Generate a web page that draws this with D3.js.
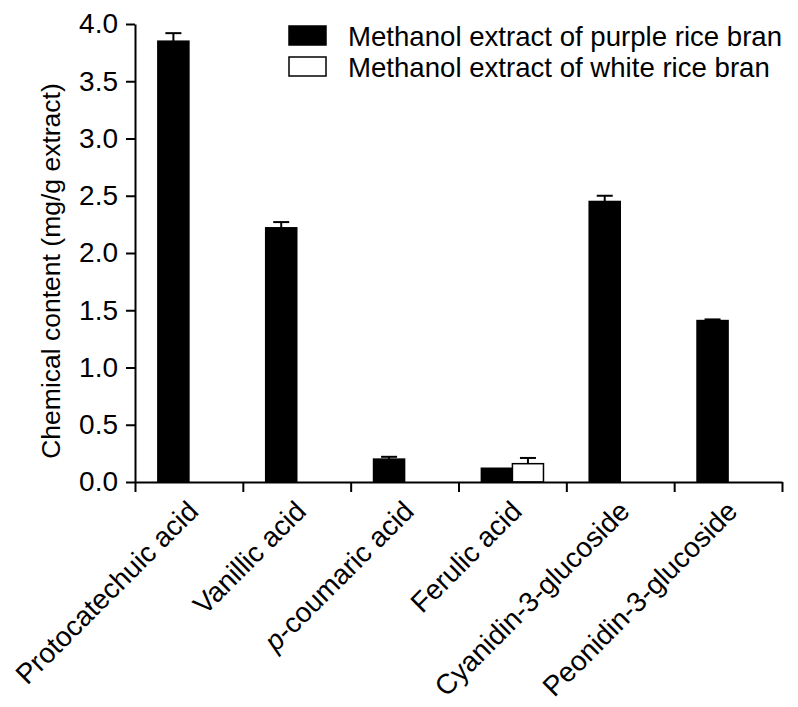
<!DOCTYPE html>
<html>
<head>
<meta charset="utf-8">
<script src="https://cdn.jsdelivr.net/npm/d3@7"></script>
<style>
  html, body { margin: 0; padding: 0; background: #fff; }
  svg { display: block; font-family: "Liberation Sans", Arial, sans-serif; }
</style>
</head>
<body>
<svg id="chart" width="798" height="707"></svg>
<script>
// ---- data ----
const categories = ["Protocatechuic acid", "Vanillic acid", "p-coumaric acid", "Ferulic acid", "Cyanidin-3-glucoside", "Peonidin-3-glucoside"];
const seriesNames = ["Methanol extract of purple rice bran", "Methanol extract of white rice bran"];
const purpleValues = [3.85, 2.22, 0.20, 0.12, 2.45, 1.41];
const purpleErrors = [0.07, 0.05, 0.02, 0.00, 0.05, 0.01];
const whiteValues  = [null, null, null, 0.16, null, null];
const whiteErrors  = [null, null, null, 0.05, null, null];
const yTicks = [0.0, 0.5, 1.0, 1.5, 2.0, 2.5, 3.0, 3.5, 4.0];
const yTitle = "Chemical content (mg/g extract)";

(function () {
// ---- layout ----
const svg = d3.select("#chart");
const mLeft = 135, mRight = 782, mTop = 24, mBottom = 482;

const x = d3.scaleBand().domain(categories).range([mLeft, mRight]).padding(0);
const barW = x.bandwidth() * 0.288;
const x1 = d3.scaleBand().domain(seriesNames)
  .range([x.bandwidth() / 2 - barW, x.bandwidth() / 2 + barW]).padding(0);
const y = d3.scaleLinear().domain([0, 4]).range([mBottom, mTop]);
const fills = { [seriesNames[0]]: "#000", [seriesNames[1]]: "#fff" };

const rows = [];
categories.forEach((c, i) => {
  rows.push({ cat: c, s: seriesNames[0], v: purpleValues[i], e: purpleErrors[i] });
  rows.push({ cat: c, s: seriesNames[1], v: whiteValues[i], e: whiteErrors[i] });
});
const drawn = rows.filter(d => d.v != null);

// bars
svg.append("g").selectAll("rect").data(drawn).join("rect")
  .attr("x", d => x(d.cat) + x1(d.s))
  .attr("y", d => y(d.v))
  .attr("width", x1.bandwidth())
  .attr("height", d => y(0) - y(d.v))
  .attr("fill", d => fills[d.s])
  .attr("stroke", "#000")
  .attr("stroke-width", 1.5);

// error bars (upper only)
const errG = svg.append("g").attr("stroke", "#000").attr("stroke-width", 2);
drawn.filter(d => d.e && d.e > 0).forEach(d => {
  const cx = x(d.cat) + x1(d.s) + x1.bandwidth() / 2;
  errG.append("line").attr("x1", cx).attr("x2", cx).attr("y1", y(d.v)).attr("y2", y(d.v + d.e));
  errG.append("line").attr("x1", cx - 8).attr("x2", cx + 8).attr("y1", y(d.v + d.e)).attr("y2", y(d.v + d.e));
});

// y axis
const yAxis = svg.append("g").attr("transform", `translate(${mLeft},0)`)
  .call(d3.axisLeft(y).tickValues(yTicks).tickFormat(d3.format(".1f")).tickSize(9).tickSizeOuter(0).tickPadding(8));
yAxis.selectAll("path, line").attr("stroke", "#000").attr("stroke-width", 2);
yAxis.selectAll("text").attr("font-size", 28).attr("fill", "#000")
  .attr("font-family", "Liberation Sans, Arial, sans-serif");

// x axis (ticks at band boundaries)
const xb = d3.scaleLinear().domain([0, categories.length]).range([mLeft, mRight]);
const xAxis = svg.append("g").attr("transform", `translate(0,${mBottom})`)
  .call(d3.axisBottom(xb).tickValues(d3.range(categories.length + 1)).tickFormat("").tickSize(10).tickSizeOuter(0));
xAxis.selectAll("path, line").attr("stroke", "#000").attr("stroke-width", 2);

// x labels
const lab = svg.append("g").selectAll("text").data(categories).join("text")
  .attr("transform", d => `translate(${x(d) + x.bandwidth() / 2 + 11},${mBottom + 31}) rotate(-45)`)
  .attr("text-anchor", "end")
  .attr("font-size", 28)
  .attr("fill", "#000");
lab.each(function(d) {
  const t = d3.select(this);
  if (d.startsWith("p-")) {
    t.append("tspan").attr("font-style", "italic").text("p");
    t.append("tspan").text(d.slice(1));
  } else {
    t.text(d);
  }
});

// y title
svg.append("text")
  .attr("transform", `translate(60,271) rotate(-90)`)
  .attr("text-anchor", "middle")
  .attr("font-size", 26.5)
  .attr("fill", "#000")
  .text(yTitle);

// legend
const leg = svg.append("g");
seriesNames.forEach((s, i) => {
  const ly = 26 + i * 31;
  leg.append("rect").attr("x", 289).attr("y", ly).attr("width", 37).attr("height", 19)
    .attr("fill", fills[s]).attr("stroke", "#000").attr("stroke-width", 1.5);
  leg.append("text").attr("x", 348).attr("y", ly + 19.5).attr("font-size", 27.6)
    .attr("fill", "#000").text(s);
});
})();
</script>
</body>
</html>
